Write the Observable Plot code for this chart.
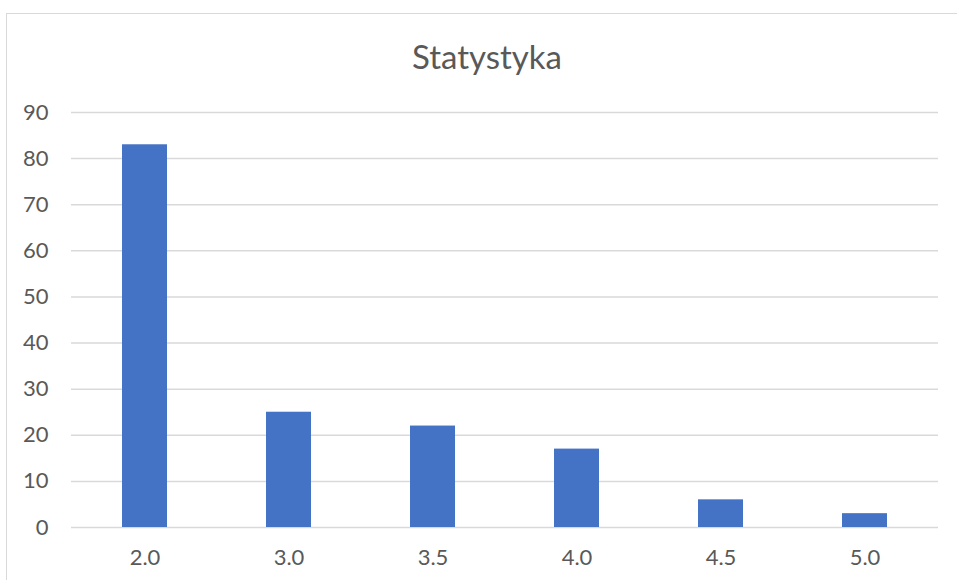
<!DOCTYPE html>
<html>
<head>
<meta charset="utf-8">
<script src="https://cdn.jsdelivr.net/npm/d3@7"></script>
<script src="https://cdn.jsdelivr.net/npm/@observablehq/plot@0.6"></script>
<style>
  html, body { margin: 0; padding: 0; background: #fff; overflow: hidden; }
  #wrap { position: relative; width: 957px; height: 580px; }
  #border { position: absolute; left: 6px; top: 13px; width: 1000px; height: 1000px;
            border: 1.5px solid #d9d9d9; box-sizing: border-box; pointer-events: none; }
  #chart { position: absolute; left: 0; top: 0; }
</style>
</head>
<body>
<div id="wrap">
  <div id="border"></div>
  <div id="chart"></div>
</div>
<script>
const title = "Statystyka";
const categories = ["2.0", "3.0", "3.5", "4.0", "4.5", "5.0"];
const values = [83, 25, 22, 17, 6, 3];
const yTicks = [0, 10, 20, 30, 40, 50, 60, 70, 80, 90];

const data = categories.map((c, i) => ({category: c, value: values[i]}));

const chart = Plot.plot({
  width: 957,
  height: 580,
  marginTop: 112,
  marginBottom: 53,
  marginLeft: 71,
  marginRight: 19,
  style: {fontFamily: "Lato, 'Open Sans', sans-serif", fontSize: "22px", color: "#595959", background: "transparent"},
  x: {domain: categories, paddingInner: 0.69, paddingOuter: 0.345, label: null},
  y: {domain: [0, 90], label: null},
  marks: [
    Plot.ruleY(yTicks, {stroke: "#d9d9d9", strokeWidth: 1.5}),
    Plot.barY(data, {x: "category", y: "value", fill: "#4472C4"}),
    Plot.axisY(yTicks, {tickSize: 0, tickPadding: 23, label: null, fontSize: 22}),
    Plot.axisX({tickSize: 0, tickPadding: 22, label: null, fontSize: 22}),
    Plot.text([title], {frameAnchor: "top", lineAnchor: "middle", dy: -54, dx: -18,
                        fontSize: 33, fill: "#595959"})
  ]
});
document.getElementById("chart").appendChild(chart);
</script>
</body>
</html>
